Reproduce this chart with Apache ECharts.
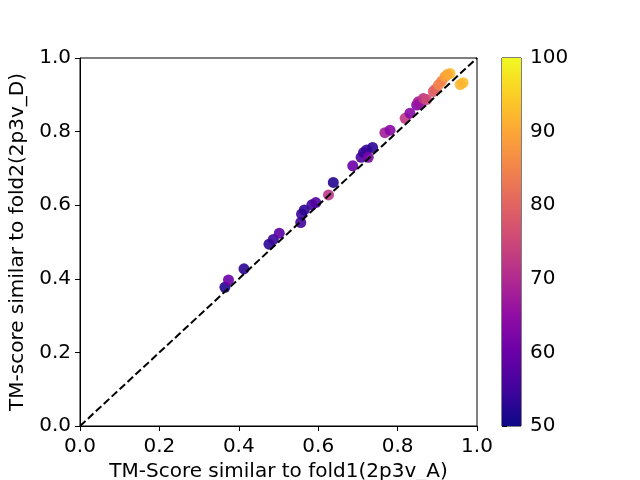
<!DOCTYPE html>
<html>
<head>
<meta charset="utf-8">
<script src="https://cdn.jsdelivr.net/npm/echarts@6/dist/echarts.min.js"></script>
<style>
  html, body { margin: 0; padding: 0; background: #fff; }
  #chart { width: 640px; height: 480px; }
</style>
</head>
<body>
<div id="chart"></div>
<script>
// TM-score vs fold1 (x), vs fold2 (y), colour value (c)
const fold1Scores = [0.365, 0.374, 0.413, 0.476, 0.487, 0.502, 0.556, 0.558, 0.565, 0.584,
    0.594, 0.626, 0.638, 0.687, 0.708, 0.714, 0.722, 0.726, 0.737, 0.768,
    0.781, 0.819, 0.831, 0.848, 0.852, 0.856, 0.865, 0.873, 0.890, 0.895,
    0.903, 0.911, 0.919, 0.932, 0.965, 0.958, 0.925];
const fold2Scores = [0.377, 0.397, 0.427, 0.494, 0.507, 0.524, 0.553, 0.576, 0.587, 0.601,
    0.607, 0.628, 0.662, 0.707, 0.730, 0.743, 0.750, 0.730, 0.757, 0.797,
    0.804, 0.836, 0.850, 0.872, 0.881, 0.875, 0.890, 0.887, 0.909, 0.915,
    0.927, 0.937, 0.949, 0.958, 0.933, 0.928, 0.955];
const colorValues = [52, 60, 53, 53, 54, 58, 55, 54, 53, 55,
    57, 72, 52, 60, 56, 54, 54, 62, 53, 68,
    64, 72, 64, 63, 68, 66, 72, 75, 78, 80,
    85, 85, 88, 93, 93, 92, 90];
const diagonal = [[0, 0], [1, 1]];
const colorRange = [50, 100];

// plasma colormap samples
const plasma = ['#0d0887', '#41049d', '#6a00a8', '#8f0da4', '#b12a90', '#cc4778',
    '#e16462', '#f2844b', '#fca636', '#fcce25', '#f0f921'];

const font = 'DejaVu Sans';
const chart = echarts.init(document.getElementById('chart'));

const scatterData = fold1Scores.map((x, i) => [x, fold2Scores[i], colorValues[i]]);

const axisCommon = {
    type: 'value',
    min: 0,
    max: 1,
    interval: 0.2,
    axisLine: { show: true, lineStyle: { color: '#000', width: 1 } },
    axisTick: { show: true, length: 5, lineStyle: { color: '#000' } },
    splitLine: { show: false },
    axisLabel: { color: '#000', fontFamily: font, fontSize: 20, margin: 9, formatter: v => v.toFixed(1) },
    nameTextStyle: { color: '#000', fontFamily: font, fontSize: 20 }
};

chart.setOption({
    animation: false,
    backgroundColor: '#fff',
    grid: [
        { left: 80, top: 58, width: 397, height: 368, show: true, borderColor: '#000', borderWidth: 1,
          containLabel: false, outerBoundsMode: 'none' },
        { left: 502, top: 58, width: 19, height: 368, show: true, borderColor: '#000', borderWidth: 1,
          containLabel: false, outerBoundsMode: 'none' }
    ],
    xAxis: [
        Object.assign({}, axisCommon, {
            gridIndex: 0,
            name: 'TM-Score similar to fold1(2p3v_A)',
            nameLocation: 'middle',
            nameGap: 36,
            axisLabel: Object.assign({}, axisCommon.axisLabel, { margin: 11 })
        }),
        { gridIndex: 1, type: 'value', min: 0, max: 1, show: false }
    ],
    yAxis: [
        Object.assign({}, axisCommon, {
            gridIndex: 0,
            name: 'TM-score similar to fold2(2p3v_D)',
            nameLocation: 'middle',
            nameGap: 52
        }),
        {
            gridIndex: 1,
            type: 'value',
            position: 'right',
            min: colorRange[0],
            max: colorRange[1],
            interval: 10,
            axisLine: { show: false },
            axisTick: { show: true, length: 5, lineStyle: { color: '#000' } },
            splitLine: { show: false },
            axisLabel: { color: '#000', fontFamily: font, fontSize: 20, margin: 9 }
        }
    ],
    visualMap: {
        show: false,
        type: 'continuous',
        seriesIndex: 1,
        dimension: 2,
        min: colorRange[0],
        max: colorRange[1],
        inRange: { color: plasma }
    },
    series: [
        {
            type: 'line',
            xAxisIndex: 0,
            yAxisIndex: 0,
            data: diagonal,
            symbol: 'none',
            z: 3,
            lineStyle: { color: '#000', width: 2, type: [7.5, 3.3] }
        },
        {
            type: 'scatter',
            xAxisIndex: 0,
            yAxisIndex: 0,
            data: scatterData,
            symbolSize: 11,
            z: 2,
            itemStyle: { opacity: 0.9 }
        },
        {
            type: 'custom',
            xAxisIndex: 1,
            yAxisIndex: 1,
            data: [[0, colorRange[0], colorRange[1]]],
            renderItem: function (params, api) {
                const top = api.coord([0, api.value(2)]);
                const bottom = api.coord([0, api.value(1)]);
                const right = api.coord([1, api.value(1)]);
                return {
                    type: 'rect',
                    shape: { x: top[0], y: top[1], width: right[0] - top[0], height: bottom[1] - top[1] },
                    style: {
                        fill: new echarts.graphic.LinearGradient(0, 1, 0, 0,
                            plasma.map((c, i) => ({ offset: i / (plasma.length - 1), color: c })))
                    }
                };
            }
        }
    ]
});
</script>
</body>
</html>
